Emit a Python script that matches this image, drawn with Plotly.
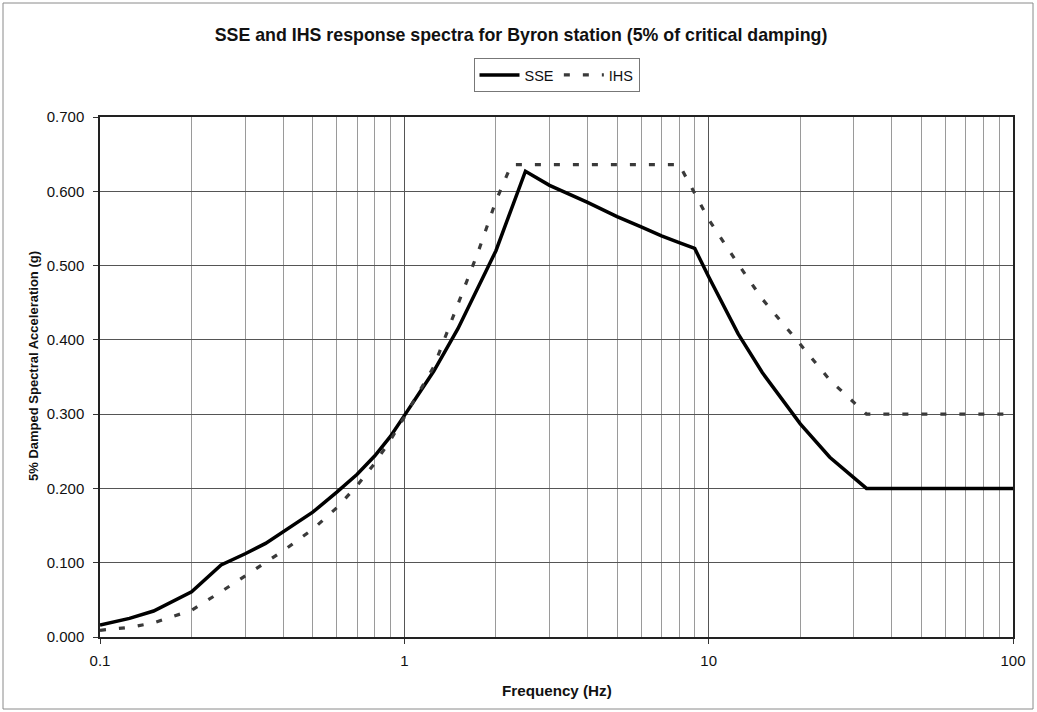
import plotly.graph_objects as go

# ---- data ----
freq_sse = [0.1, 0.125, 0.15, 0.2, 0.25, 0.3, 0.35, 0.4, 0.5, 0.6, 0.7, 0.8, 0.9, 1.0,
            1.25, 1.5, 1.75, 2.0, 2.5, 3, 4, 5, 6, 7, 8, 9, 10, 12.5, 15, 20, 25, 33, 50, 100]
sse = [0.016, 0.025, 0.035, 0.061, 0.097, 0.112, 0.126, 0.142, 0.168, 0.195, 0.219, 0.244,
       0.270, 0.298, 0.358, 0.415, 0.471, 0.520, 0.627, 0.608, 0.585, 0.566, 0.552, 0.540,
       0.531, 0.523, 0.485, 0.408, 0.356, 0.287, 0.242, 0.200, 0.200, 0.200]

freq_ihs = [0.1, 0.125, 0.15, 0.2, 0.25, 0.3, 0.4, 0.5, 0.6, 0.7, 0.8, 0.9, 1.0,
            1.25, 1.5, 1.75, 2.0, 2.25, 3, 4, 5, 6, 7, 8, 9, 10, 12.5, 15, 20, 25, 33, 50, 100]
ihs = [0.009, 0.013, 0.019, 0.036, 0.061, 0.082, 0.116, 0.145, 0.174, 0.204, 0.234, 0.265,
       0.296, 0.364, 0.448, 0.519, 0.587, 0.636, 0.636, 0.636, 0.636, 0.636, 0.636, 0.636,
       0.597, 0.562, 0.502, 0.455, 0.394, 0.346, 0.300, 0.300, 0.300]

x_tick_vals = [0.1, 1, 10, 100]
x_tick_text = ["0.1", "1", "10", "100"]
x_minor_vals = [d * m for d in [0.1, 1, 10] for m in range(2, 10)]
y_tick_vals = [0.0, 0.1, 0.2, 0.3, 0.4, 0.5, 0.6, 0.7]

title_text = "SSE and IHS response spectra for Byron station (5% of critical damping)"
x_title = "Frequency (Hz)"
y_title = "5% Damped Spectral Acceleration (g)"

FONT = "Liberation Sans, Arial, sans-serif"

fig = go.Figure()
fig.add_trace(go.Scatter(x=freq_sse, y=sse, mode="lines", name="SSE",
                         line=dict(color="#000000", width=3.5)))
fig.add_trace(go.Scatter(x=freq_ihs, y=ihs, mode="lines", name="IHS",
                         line=dict(color="#3a3a3a", width=3.2, dash="6px,13px")))

L, R, T, B = 100, 24, 117, 75
W, H = 1037, 712
pw, ph = W - L - R, H - T - B

fig.update_layout(
    width=W, height=H,
    margin=dict(l=L, r=R, t=T, b=B),
    paper_bgcolor="white", plot_bgcolor="white",
    font=dict(family=FONT, color="#111111", size=14),
    title=dict(text="<b>" + title_text + "</b>", x=521 / W, xref="container",
               xanchor="center", y=1 - 35 / H, yref="container", yanchor="middle",
               font=dict(size=17.8, family=FONT, color="#111111")),
    legend=dict(orientation="h", x=0.5, xanchor="center",
                y=(H - B - 92) / ph, yanchor="bottom",
                bordercolor="#777777", borderwidth=1, bgcolor="white",
                font=dict(size=14.5, family=FONT), itemwidth=40,
                tracegroupgap=0),
    showlegend=True,
)

fig.update_xaxes(type="log", range=[-1, 2],
                 tickvals=x_tick_vals, ticktext=x_tick_text,
                 showgrid=True, gridcolor="#555555", gridwidth=1,
                 ticks="outside", ticklen=5, tickcolor="#333333",
                 showline=True, linecolor="#222222", linewidth=1.5, mirror=True,
                 tickfont=dict(size=15, family=FONT),
                 ticklabelstandoff=4,
                 minor=dict(tickvals=x_minor_vals, showgrid=True, gridcolor="#9a9a9a",
                            gridwidth=1, ticks=""),
                 zeroline=False)
fig.update_yaxes(range=[0, 0.7], tickvals=y_tick_vals, tickformat=".3f",
                 showgrid=True, gridcolor="#555555", gridwidth=1,
                 ticks="outside", ticklen=5, tickcolor="#333333",
                 showline=True, linecolor="#222222", linewidth=1.5, mirror=True,
                 tickfont=dict(size=15, family=FONT),
                 ticklabelstandoff=6,
                 zeroline=False)

# axis titles as annotations
fig.add_annotation(text="<b>" + x_title + "</b>", xref="paper", yref="paper",
                   x=(557 - L) / pw, y=(H - B - 690) / ph, xanchor="center", yanchor="middle",
                   showarrow=False, font=dict(size=15.2, family=FONT, color="#111111"))
fig.add_annotation(text="<b>" + y_title + "</b>", xref="paper", yref="paper",
                   x=(33 - L) / pw, y=(H - B - 366) / ph, xanchor="center", yanchor="middle",
                   textangle=-90, showarrow=False, font=dict(size=13, family=FONT, color="#111111"))

# outer chart border
fig.add_shape(type="rect", xref="paper", yref="paper",
              x0=(3 - L) / pw, x1=(1033 - L) / pw,
              y0=(H - B - 709) / ph, y1=(H - B - 3) / ph,
              line=dict(color="#8a8a8a", width=1), layer="below")

fig.write_html("out.html")
